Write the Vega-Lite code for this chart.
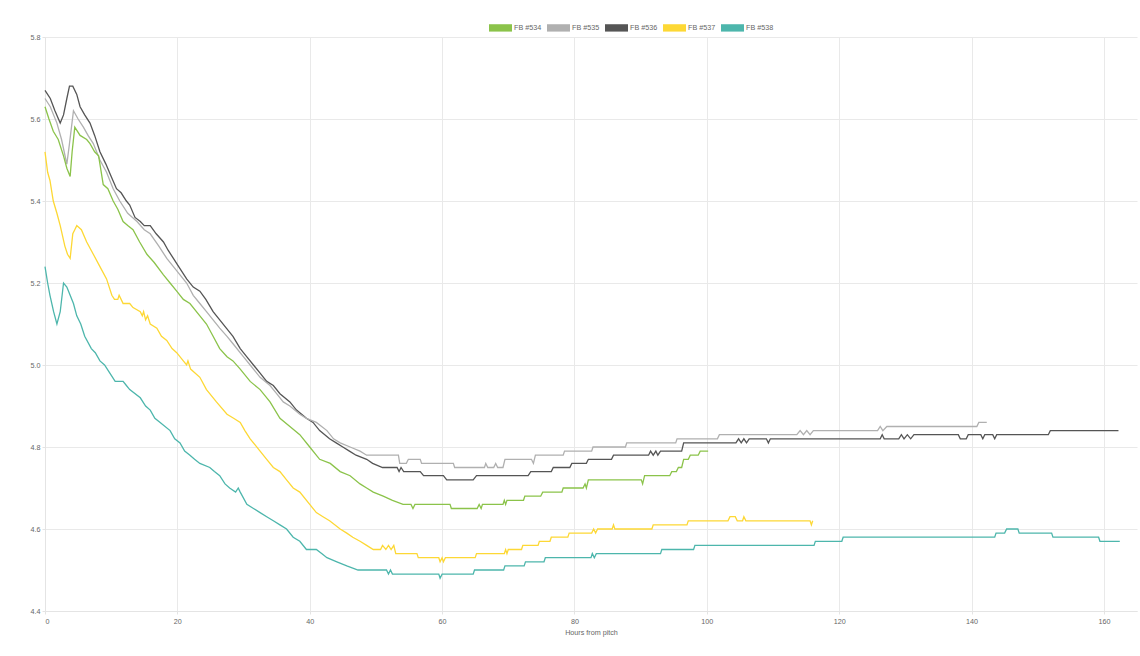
{
  "$schema": "https://vega.github.io/schema/vega-lite/v6.json",
  "width": 1092,
  "height": 574,
  "autosize": {"type": "none"},
  "padding": {"left": 45, "top": 37, "right": 3, "bottom": 45},
  "background": "white",
  "data": {"values": [
{"s":"FB #538","h":0,"v":5.24},{"s":"FB #538","h":0.4,"v":5.2},{"s":"FB #538","h":0.75,"v":5.17},{"s":"FB #538","h":1.3,"v":5.13},{"s":"FB #538","h":1.8,"v":5.1},{"s":"FB #538","h":2.3,"v":5.13},{"s":"FB #538","h":2.8,"v":5.2},{"s":"FB #538","h":3.3,"v":5.19},{"s":"FB #538","h":3.8,"v":5.17},{"s":"FB #538","h":4.3,"v":5.15},{"s":"FB #538","h":4.8,"v":5.12},{"s":"FB #538","h":5.4,"v":5.1},{"s":"FB #538","h":6,"v":5.07},{"s":"FB #538","h":7,"v":5.04},{"s":"FB #538","h":7.6,"v":5.03},{"s":"FB #538","h":8.3,"v":5.01},{"s":"FB #538","h":9,"v":5},{"s":"FB #538","h":9.8,"v":4.98},{"s":"FB #538","h":10.6,"v":4.96},{"s":"FB #538","h":11.8,"v":4.96},{"s":"FB #538","h":12.3,"v":4.95},{"s":"FB #538","h":12.8,"v":4.94},{"s":"FB #538","h":14.4,"v":4.92},{"s":"FB #538","h":15.2,"v":4.9},{"s":"FB #538","h":15.9,"v":4.89},{"s":"FB #538","h":16.6,"v":4.87},{"s":"FB #538","h":17.4,"v":4.86},{"s":"FB #538","h":18.9,"v":4.84},{"s":"FB #538","h":19.6,"v":4.82},{"s":"FB #538","h":20.4,"v":4.81},{"s":"FB #538","h":21.1,"v":4.79},{"s":"FB #538","h":21.9,"v":4.78},{"s":"FB #538","h":22.6,"v":4.77},{"s":"FB #538","h":23.4,"v":4.76},{"s":"FB #538","h":24.9,"v":4.75},{"s":"FB #538","h":25.6,"v":4.74},{"s":"FB #538","h":26.4,"v":4.73},{"s":"FB #538","h":27.2,"v":4.71},{"s":"FB #538","h":27.9,"v":4.7},{"s":"FB #538","h":28.8,"v":4.69},{"s":"FB #538","h":29.2,"v":4.7},{"s":"FB #538","h":29.5,"v":4.69},{"s":"FB #538","h":30.5,"v":4.66},{"s":"FB #538","h":31.5,"v":4.65},{"s":"FB #538","h":32.5,"v":4.64},{"s":"FB #538","h":33.5,"v":4.63},{"s":"FB #538","h":34.5,"v":4.62},{"s":"FB #538","h":35.5,"v":4.61},{"s":"FB #538","h":36.5,"v":4.6},{"s":"FB #538","h":37.5,"v":4.58},{"s":"FB #538","h":38.5,"v":4.57},{"s":"FB #538","h":39.5,"v":4.55},{"s":"FB #538","h":41,"v":4.55},{"s":"FB #538","h":41.8,"v":4.54},{"s":"FB #538","h":42.6,"v":4.53},{"s":"FB #538","h":44.1,"v":4.52},{"s":"FB #538","h":45.6,"v":4.51},{"s":"FB #538","h":47.3,"v":4.5},{"s":"FB #538","h":51.6,"v":4.5},{"s":"FB #538","h":51.9,"v":4.49},{"s":"FB #538","h":52.2,"v":4.5},{"s":"FB #538","h":52.5,"v":4.49},{"s":"FB #538","h":59.5,"v":4.49},{"s":"FB #538","h":59.7,"v":4.48},{"s":"FB #538","h":60,"v":4.49},{"s":"FB #538","h":64.7,"v":4.49},{"s":"FB #538","h":64.9,"v":4.5},{"s":"FB #538","h":69.3,"v":4.5},{"s":"FB #538","h":69.5,"v":4.51},{"s":"FB #538","h":72.4,"v":4.51},{"s":"FB #538","h":72.6,"v":4.52},{"s":"FB #538","h":75.4,"v":4.52},{"s":"FB #538","h":75.6,"v":4.53},{"s":"FB #538","h":82.5,"v":4.53},{"s":"FB #538","h":82.7,"v":4.54},{"s":"FB #538","h":83,"v":4.53},{"s":"FB #538","h":83.3,"v":4.54},{"s":"FB #538","h":93,"v":4.54},{"s":"FB #538","h":93.2,"v":4.55},{"s":"FB #538","h":98,"v":4.55},{"s":"FB #538","h":98.2,"v":4.56},{"s":"FB #538","h":116.2,"v":4.56},{"s":"FB #538","h":116.4,"v":4.57},{"s":"FB #538","h":120.4,"v":4.57},{"s":"FB #538","h":120.6,"v":4.58},{"s":"FB #538","h":143.5,"v":4.58},{"s":"FB #538","h":143.7,"v":4.59},{"s":"FB #538","h":145,"v":4.59},{"s":"FB #538","h":145.3,"v":4.6},{"s":"FB #538","h":147,"v":4.6},{"s":"FB #538","h":147.2,"v":4.59},{"s":"FB #538","h":152.1,"v":4.59},{"s":"FB #538","h":152.3,"v":4.58},{"s":"FB #538","h":159.2,"v":4.58},{"s":"FB #538","h":159.4,"v":4.57},{"s":"FB #538","h":162.4,"v":4.57},
{"s":"FB #537","h":0,"v":5.52},{"s":"FB #537","h":0.4,"v":5.47},{"s":"FB #537","h":0.75,"v":5.45},{"s":"FB #537","h":1.25,"v":5.4},{"s":"FB #537","h":1.8,"v":5.37},{"s":"FB #537","h":2.3,"v":5.34},{"s":"FB #537","h":3,"v":5.29},{"s":"FB #537","h":3.4,"v":5.27},{"s":"FB #537","h":3.8,"v":5.26},{"s":"FB #537","h":4.2,"v":5.32},{"s":"FB #537","h":4.5,"v":5.33},{"s":"FB #537","h":4.8,"v":5.34},{"s":"FB #537","h":5.5,"v":5.33},{"s":"FB #537","h":6.3,"v":5.3},{"s":"FB #537","h":7.3,"v":5.27},{"s":"FB #537","h":8.3,"v":5.24},{"s":"FB #537","h":9.3,"v":5.21},{"s":"FB #537","h":10.1,"v":5.17},{"s":"FB #537","h":10.5,"v":5.16},{"s":"FB #537","h":11,"v":5.16},{"s":"FB #537","h":11.2,"v":5.17},{"s":"FB #537","h":11.5,"v":5.16},{"s":"FB #537","h":11.8,"v":5.15},{"s":"FB #537","h":12.8,"v":5.15},{"s":"FB #537","h":13.3,"v":5.14},{"s":"FB #537","h":14.4,"v":5.13},{"s":"FB #537","h":14.7,"v":5.12},{"s":"FB #537","h":14.9,"v":5.13},{"s":"FB #537","h":15.2,"v":5.11},{"s":"FB #537","h":15.5,"v":5.12},{"s":"FB #537","h":15.9,"v":5.1},{"s":"FB #537","h":16.9,"v":5.09},{"s":"FB #537","h":17.6,"v":5.07},{"s":"FB #537","h":18.4,"v":5.06},{"s":"FB #537","h":19.2,"v":5.04},{"s":"FB #537","h":19.9,"v":5.03},{"s":"FB #537","h":20.9,"v":5.01},{"s":"FB #537","h":21.4,"v":5},{"s":"FB #537","h":21.6,"v":5.01},{"s":"FB #537","h":22,"v":4.99},{"s":"FB #537","h":23.4,"v":4.97},{"s":"FB #537","h":24.4,"v":4.94},{"s":"FB #537","h":25.9,"v":4.91},{"s":"FB #537","h":27.5,"v":4.88},{"s":"FB #537","h":28.5,"v":4.87},{"s":"FB #537","h":29.5,"v":4.86},{"s":"FB #537","h":30.2,"v":4.84},{"s":"FB #537","h":31,"v":4.82},{"s":"FB #537","h":32.5,"v":4.79},{"s":"FB #537","h":33.5,"v":4.77},{"s":"FB #537","h":34.5,"v":4.75},{"s":"FB #537","h":35.5,"v":4.74},{"s":"FB #537","h":36.5,"v":4.72},{"s":"FB #537","h":37.5,"v":4.7},{"s":"FB #537","h":38.5,"v":4.69},{"s":"FB #537","h":40,"v":4.66},{"s":"FB #537","h":41,"v":4.64},{"s":"FB #537","h":42,"v":4.63},{"s":"FB #537","h":43,"v":4.62},{"s":"FB #537","h":44.6,"v":4.6},{"s":"FB #537","h":45.6,"v":4.59},{"s":"FB #537","h":46.5,"v":4.58},{"s":"FB #537","h":47.6,"v":4.57},{"s":"FB #537","h":48.6,"v":4.56},{"s":"FB #537","h":49.6,"v":4.55},{"s":"FB #537","h":50.7,"v":4.55},{"s":"FB #537","h":51,"v":4.56},{"s":"FB #537","h":51.5,"v":4.55},{"s":"FB #537","h":51.9,"v":4.56},{"s":"FB #537","h":52.3,"v":4.55},{"s":"FB #537","h":52.7,"v":4.56},{"s":"FB #537","h":53,"v":4.54},{"s":"FB #537","h":56.2,"v":4.54},{"s":"FB #537","h":56.4,"v":4.53},{"s":"FB #537","h":59.5,"v":4.53},{"s":"FB #537","h":59.7,"v":4.52},{"s":"FB #537","h":60,"v":4.53},{"s":"FB #537","h":60.2,"v":4.52},{"s":"FB #537","h":60.5,"v":4.53},{"s":"FB #537","h":65,"v":4.53},{"s":"FB #537","h":65.2,"v":4.54},{"s":"FB #537","h":69.4,"v":4.54},{"s":"FB #537","h":69.6,"v":4.55},{"s":"FB #537","h":69.8,"v":4.54},{"s":"FB #537","h":70,"v":4.55},{"s":"FB #537","h":72,"v":4.55},{"s":"FB #537","h":72.2,"v":4.56},{"s":"FB #537","h":74.5,"v":4.56},{"s":"FB #537","h":74.7,"v":4.57},{"s":"FB #537","h":76.3,"v":4.57},{"s":"FB #537","h":76.5,"v":4.58},{"s":"FB #537","h":79,"v":4.58},{"s":"FB #537","h":79.2,"v":4.59},{"s":"FB #537","h":82.6,"v":4.59},{"s":"FB #537","h":82.9,"v":4.6},{"s":"FB #537","h":83.2,"v":4.59},{"s":"FB #537","h":83.5,"v":4.6},{"s":"FB #537","h":85.7,"v":4.6},{"s":"FB #537","h":85.9,"v":4.61},{"s":"FB #537","h":86.1,"v":4.6},{"s":"FB #537","h":91.7,"v":4.6},{"s":"FB #537","h":91.9,"v":4.61},{"s":"FB #537","h":97,"v":4.61},{"s":"FB #537","h":97.2,"v":4.62},{"s":"FB #537","h":103.2,"v":4.62},{"s":"FB #537","h":103.5,"v":4.63},{"s":"FB #537","h":104.3,"v":4.63},{"s":"FB #537","h":104.6,"v":4.62},{"s":"FB #537","h":105.4,"v":4.62},{"s":"FB #537","h":105.6,"v":4.63},{"s":"FB #537","h":105.9,"v":4.62},{"s":"FB #537","h":115.6,"v":4.62},{"s":"FB #537","h":115.8,"v":4.61},{"s":"FB #537","h":116,"v":4.62},
{"s":"FB #536","h":0,"v":5.67},{"s":"FB #536","h":0.8,"v":5.65},{"s":"FB #536","h":1.5,"v":5.62},{"s":"FB #536","h":2.3,"v":5.59},{"s":"FB #536","h":2.8,"v":5.61},{"s":"FB #536","h":3.3,"v":5.65},{"s":"FB #536","h":3.7,"v":5.68},{"s":"FB #536","h":4.2,"v":5.68},{"s":"FB #536","h":4.8,"v":5.66},{"s":"FB #536","h":5.3,"v":5.63},{"s":"FB #536","h":6,"v":5.61},{"s":"FB #536","h":6.8,"v":5.59},{"s":"FB #536","h":7.5,"v":5.56},{"s":"FB #536","h":8.3,"v":5.52},{"s":"FB #536","h":9.2,"v":5.49},{"s":"FB #536","h":10,"v":5.46},{"s":"FB #536","h":10.8,"v":5.43},{"s":"FB #536","h":11.5,"v":5.42},{"s":"FB #536","h":12.3,"v":5.4},{"s":"FB #536","h":12.8,"v":5.39},{"s":"FB #536","h":13.6,"v":5.36},{"s":"FB #536","h":14.4,"v":5.35},{"s":"FB #536","h":15,"v":5.34},{"s":"FB #536","h":15.9,"v":5.34},{"s":"FB #536","h":16.8,"v":5.32},{"s":"FB #536","h":17.9,"v":5.3},{"s":"FB #536","h":18.6,"v":5.28},{"s":"FB #536","h":19.4,"v":5.26},{"s":"FB #536","h":20.2,"v":5.24},{"s":"FB #536","h":21.4,"v":5.21},{"s":"FB #536","h":22.4,"v":5.19},{"s":"FB #536","h":23.4,"v":5.18},{"s":"FB #536","h":24.3,"v":5.16},{"s":"FB #536","h":25.4,"v":5.13},{"s":"FB #536","h":26.4,"v":5.11},{"s":"FB #536","h":27.4,"v":5.09},{"s":"FB #536","h":28.4,"v":5.07},{"s":"FB #536","h":29.5,"v":5.04},{"s":"FB #536","h":30.5,"v":5.02},{"s":"FB #536","h":31.5,"v":5},{"s":"FB #536","h":32.5,"v":4.98},{"s":"FB #536","h":33.5,"v":4.96},{"s":"FB #536","h":34.5,"v":4.95},{"s":"FB #536","h":35.5,"v":4.93},{"s":"FB #536","h":37,"v":4.91},{"s":"FB #536","h":38,"v":4.89},{"s":"FB #536","h":39.5,"v":4.87},{"s":"FB #536","h":40.5,"v":4.86},{"s":"FB #536","h":41.5,"v":4.84},{"s":"FB #536","h":43,"v":4.82},{"s":"FB #536","h":44,"v":4.81},{"s":"FB #536","h":45,"v":4.8},{"s":"FB #536","h":46,"v":4.79},{"s":"FB #536","h":47,"v":4.78},{"s":"FB #536","h":48.6,"v":4.77},{"s":"FB #536","h":49.5,"v":4.76},{"s":"FB #536","h":51,"v":4.75},{"s":"FB #536","h":53.2,"v":4.75},{"s":"FB #536","h":53.5,"v":4.74},{"s":"FB #536","h":53.8,"v":4.75},{"s":"FB #536","h":54.2,"v":4.74},{"s":"FB #536","h":56.7,"v":4.74},{"s":"FB #536","h":57.2,"v":4.73},{"s":"FB #536","h":60.2,"v":4.73},{"s":"FB #536","h":60.7,"v":4.72},{"s":"FB #536","h":64.7,"v":4.72},{"s":"FB #536","h":65.2,"v":4.73},{"s":"FB #536","h":73,"v":4.73},{"s":"FB #536","h":73.4,"v":4.74},{"s":"FB #536","h":76.5,"v":4.74},{"s":"FB #536","h":76.8,"v":4.75},{"s":"FB #536","h":79.3,"v":4.75},{"s":"FB #536","h":79.6,"v":4.76},{"s":"FB #536","h":81.8,"v":4.76},{"s":"FB #536","h":82.1,"v":4.77},{"s":"FB #536","h":85.6,"v":4.77},{"s":"FB #536","h":85.9,"v":4.78},{"s":"FB #536","h":91.2,"v":4.78},{"s":"FB #536","h":91.5,"v":4.79},{"s":"FB #536","h":91.9,"v":4.78},{"s":"FB #536","h":92.3,"v":4.79},{"s":"FB #536","h":92.6,"v":4.78},{"s":"FB #536","h":93,"v":4.79},{"s":"FB #536","h":96.2,"v":4.79},{"s":"FB #536","h":96.5,"v":4.81},{"s":"FB #536","h":104.4,"v":4.81},{"s":"FB #536","h":104.8,"v":4.82},{"s":"FB #536","h":105.2,"v":4.81},{"s":"FB #536","h":105.6,"v":4.82},{"s":"FB #536","h":106,"v":4.81},{"s":"FB #536","h":106.4,"v":4.82},{"s":"FB #536","h":109,"v":4.82},{"s":"FB #536","h":109.3,"v":4.81},{"s":"FB #536","h":109.6,"v":4.82},{"s":"FB #536","h":126.2,"v":4.82},{"s":"FB #536","h":126.5,"v":4.83},{"s":"FB #536","h":126.8,"v":4.82},{"s":"FB #536","h":129,"v":4.82},{"s":"FB #536","h":129.4,"v":4.83},{"s":"FB #536","h":129.8,"v":4.82},{"s":"FB #536","h":130.3,"v":4.83},{"s":"FB #536","h":130.8,"v":4.82},{"s":"FB #536","h":131.3,"v":4.83},{"s":"FB #536","h":138,"v":4.83},{"s":"FB #536","h":138.3,"v":4.82},{"s":"FB #536","h":139.2,"v":4.82},{"s":"FB #536","h":139.5,"v":4.83},{"s":"FB #536","h":141.4,"v":4.83},{"s":"FB #536","h":141.7,"v":4.82},{"s":"FB #536","h":142,"v":4.83},{"s":"FB #536","h":143.2,"v":4.83},{"s":"FB #536","h":143.5,"v":4.82},{"s":"FB #536","h":143.8,"v":4.83},{"s":"FB #536","h":151.6,"v":4.83},{"s":"FB #536","h":151.9,"v":4.84},{"s":"FB #536","h":162.2,"v":4.84},
{"s":"FB #535","h":0,"v":5.65},{"s":"FB #535","h":0.8,"v":5.63},{"s":"FB #535","h":1.8,"v":5.59},{"s":"FB #535","h":2.5,"v":5.55},{"s":"FB #535","h":3.3,"v":5.49},{"s":"FB #535","h":3.7,"v":5.54},{"s":"FB #535","h":4.3,"v":5.62},{"s":"FB #535","h":5,"v":5.6},{"s":"FB #535","h":5.8,"v":5.58},{"s":"FB #535","h":6.5,"v":5.56},{"s":"FB #535","h":7.3,"v":5.54},{"s":"FB #535","h":8.3,"v":5.5},{"s":"FB #535","h":9.3,"v":5.47},{"s":"FB #535","h":10.3,"v":5.43},{"s":"FB #535","h":11.3,"v":5.4},{"s":"FB #535","h":12.5,"v":5.37},{"s":"FB #535","h":13.9,"v":5.35},{"s":"FB #535","h":15,"v":5.33},{"s":"FB #535","h":15.9,"v":5.32},{"s":"FB #535","h":17.2,"v":5.29},{"s":"FB #535","h":18.4,"v":5.26},{"s":"FB #535","h":19.4,"v":5.24},{"s":"FB #535","h":20.4,"v":5.22},{"s":"FB #535","h":21.4,"v":5.2},{"s":"FB #535","h":22.4,"v":5.17},{"s":"FB #535","h":23.4,"v":5.15},{"s":"FB #535","h":24.4,"v":5.13},{"s":"FB #535","h":25.4,"v":5.11},{"s":"FB #535","h":26.4,"v":5.09},{"s":"FB #535","h":27.5,"v":5.07},{"s":"FB #535","h":28.5,"v":5.05},{"s":"FB #535","h":30,"v":5.02},{"s":"FB #535","h":31,"v":5},{"s":"FB #535","h":32.5,"v":4.97},{"s":"FB #535","h":34,"v":4.95},{"s":"FB #535","h":35,"v":4.93},{"s":"FB #535","h":36,"v":4.91},{"s":"FB #535","h":37,"v":4.9},{"s":"FB #535","h":38.5,"v":4.88},{"s":"FB #535","h":39.5,"v":4.87},{"s":"FB #535","h":41,"v":4.86},{"s":"FB #535","h":42.6,"v":4.84},{"s":"FB #535","h":43.6,"v":4.82},{"s":"FB #535","h":44.6,"v":4.81},{"s":"FB #535","h":46.1,"v":4.8},{"s":"FB #535","h":47.6,"v":4.79},{"s":"FB #535","h":48.6,"v":4.78},{"s":"FB #535","h":53.4,"v":4.78},{"s":"FB #535","h":53.6,"v":4.76},{"s":"FB #535","h":54.6,"v":4.76},{"s":"FB #535","h":54.9,"v":4.77},{"s":"FB #535","h":56.7,"v":4.77},{"s":"FB #535","h":56.9,"v":4.76},{"s":"FB #535","h":61.7,"v":4.76},{"s":"FB #535","h":61.9,"v":4.75},{"s":"FB #535","h":66.4,"v":4.75},{"s":"FB #535","h":66.6,"v":4.76},{"s":"FB #535","h":66.9,"v":4.75},{"s":"FB #535","h":67.8,"v":4.75},{"s":"FB #535","h":68.1,"v":4.76},{"s":"FB #535","h":68.4,"v":4.75},{"s":"FB #535","h":69.2,"v":4.75},{"s":"FB #535","h":69.5,"v":4.77},{"s":"FB #535","h":73.5,"v":4.77},{"s":"FB #535","h":73.8,"v":4.76},{"s":"FB #535","h":74.1,"v":4.78},{"s":"FB #535","h":78.3,"v":4.78},{"s":"FB #535","h":78.5,"v":4.79},{"s":"FB #535","h":82.6,"v":4.79},{"s":"FB #535","h":82.8,"v":4.8},{"s":"FB #535","h":87.7,"v":4.8},{"s":"FB #535","h":87.9,"v":4.81},{"s":"FB #535","h":95.3,"v":4.81},{"s":"FB #535","h":95.5,"v":4.82},{"s":"FB #535","h":101.6,"v":4.82},{"s":"FB #535","h":101.9,"v":4.83},{"s":"FB #535","h":113.6,"v":4.83},{"s":"FB #535","h":114.1,"v":4.84},{"s":"FB #535","h":114.6,"v":4.83},{"s":"FB #535","h":115.1,"v":4.84},{"s":"FB #535","h":115.6,"v":4.83},{"s":"FB #535","h":116.1,"v":4.84},{"s":"FB #535","h":125.8,"v":4.84},{"s":"FB #535","h":126.2,"v":4.85},{"s":"FB #535","h":126.6,"v":4.84},{"s":"FB #535","h":127.2,"v":4.85},{"s":"FB #535","h":140.8,"v":4.85},{"s":"FB #535","h":141.1,"v":4.86},{"s":"FB #535","h":142.3,"v":4.86},
{"s":"FB #534","h":0,"v":5.63},{"s":"FB #534","h":0.6,"v":5.6},{"s":"FB #534","h":1.25,"v":5.57},{"s":"FB #534","h":2,"v":5.55},{"s":"FB #534","h":2.8,"v":5.51},{"s":"FB #534","h":3.3,"v":5.48},{"s":"FB #534","h":3.8,"v":5.46},{"s":"FB #534","h":4.1,"v":5.52},{"s":"FB #534","h":4.5,"v":5.58},{"s":"FB #534","h":5.3,"v":5.56},{"s":"FB #534","h":6.3,"v":5.55},{"s":"FB #534","h":6.8,"v":5.54},{"s":"FB #534","h":7.5,"v":5.52},{"s":"FB #534","h":8.1,"v":5.51},{"s":"FB #534","h":8.8,"v":5.44},{"s":"FB #534","h":9.5,"v":5.43},{"s":"FB #534","h":10.3,"v":5.4},{"s":"FB #534","h":11,"v":5.38},{"s":"FB #534","h":11.8,"v":5.35},{"s":"FB #534","h":12.5,"v":5.34},{"s":"FB #534","h":13.3,"v":5.33},{"s":"FB #534","h":14.3,"v":5.3},{"s":"FB #534","h":15.4,"v":5.27},{"s":"FB #534","h":16.5,"v":5.25},{"s":"FB #534","h":17.9,"v":5.22},{"s":"FB #534","h":18.9,"v":5.2},{"s":"FB #534","h":19.9,"v":5.18},{"s":"FB #534","h":20.9,"v":5.16},{"s":"FB #534","h":21.9,"v":5.15},{"s":"FB #534","h":23.4,"v":5.12},{"s":"FB #534","h":24.4,"v":5.1},{"s":"FB #534","h":25.4,"v":5.07},{"s":"FB #534","h":26.4,"v":5.04},{"s":"FB #534","h":27.5,"v":5.02},{"s":"FB #534","h":28.4,"v":5.01},{"s":"FB #534","h":29.5,"v":4.99},{"s":"FB #534","h":31,"v":4.96},{"s":"FB #534","h":32.5,"v":4.94},{"s":"FB #534","h":34,"v":4.91},{"s":"FB #534","h":35.5,"v":4.87},{"s":"FB #534","h":37,"v":4.85},{"s":"FB #534","h":38.5,"v":4.83},{"s":"FB #534","h":40,"v":4.8},{"s":"FB #534","h":41.5,"v":4.77},{"s":"FB #534","h":43.1,"v":4.76},{"s":"FB #534","h":44.6,"v":4.74},{"s":"FB #534","h":46.1,"v":4.73},{"s":"FB #534","h":47.6,"v":4.71},{"s":"FB #534","h":48.6,"v":4.7},{"s":"FB #534","h":49.6,"v":4.69},{"s":"FB #534","h":51.1,"v":4.68},{"s":"FB #534","h":52.5,"v":4.67},{"s":"FB #534","h":54.1,"v":4.66},{"s":"FB #534","h":55.3,"v":4.66},{"s":"FB #534","h":55.6,"v":4.65},{"s":"FB #534","h":55.9,"v":4.66},{"s":"FB #534","h":61.2,"v":4.66},{"s":"FB #534","h":61.4,"v":4.65},{"s":"FB #534","h":65.3,"v":4.65},{"s":"FB #534","h":65.6,"v":4.66},{"s":"FB #534","h":65.9,"v":4.65},{"s":"FB #534","h":66.1,"v":4.66},{"s":"FB #534","h":69.2,"v":4.66},{"s":"FB #534","h":69.4,"v":4.67},{"s":"FB #534","h":69.6,"v":4.66},{"s":"FB #534","h":69.8,"v":4.67},{"s":"FB #534","h":72.3,"v":4.67},{"s":"FB #534","h":72.5,"v":4.68},{"s":"FB #534","h":74.9,"v":4.68},{"s":"FB #534","h":75.2,"v":4.69},{"s":"FB #534","h":78.1,"v":4.69},{"s":"FB #534","h":78.3,"v":4.7},{"s":"FB #534","h":81.3,"v":4.7},{"s":"FB #534","h":81.6,"v":4.71},{"s":"FB #534","h":81.8,"v":4.7},{"s":"FB #534","h":82.1,"v":4.72},{"s":"FB #534","h":90.1,"v":4.72},{"s":"FB #534","h":90.3,"v":4.71},{"s":"FB #534","h":90.6,"v":4.73},{"s":"FB #534","h":94.4,"v":4.73},{"s":"FB #534","h":94.7,"v":4.74},{"s":"FB #534","h":95.4,"v":4.74},{"s":"FB #534","h":95.7,"v":4.75},{"s":"FB #534","h":96.2,"v":4.75},{"s":"FB #534","h":96.5,"v":4.77},{"s":"FB #534","h":97.2,"v":4.77},{"s":"FB #534","h":97.5,"v":4.78},{"s":"FB #534","h":98.7,"v":4.78},{"s":"FB #534","h":99,"v":4.79},{"s":"FB #534","h":100.2,"v":4.79}
  ]},
  "mark": {"type": "line", "strokeWidth": 1.3},
  "encoding": {
    "x": {"field": "h", "type": "quantitative", "scale": {"domain": [0, 165], "nice": false}, "axis": {"values": [0, 20, 40, 60, 80, 100, 120, 140, 160], "title": "Hours from pitch"}},
    "y": {"field": "v", "type": "quantitative", "scale": {"domain": [4.4, 5.8], "nice": false, "zero": false}, "axis": {"values": [4.4, 4.6, 4.8, 5.0, 5.2, 5.4, 5.6, 5.8], "format": ".1f", "title": null}},
    "color": {"field": "s", "type": "nominal", "sort": ["FB #534", "FB #535", "FB #536", "FB #537", "FB #538"], "scale": {"domain": ["FB #534", "FB #535", "FB #536", "FB #537", "FB #538"], "range": ["#8bc34a", "#b0b0b0", "#555555", "#fdd835", "#4db6ac"]}, "legend": {"orient": "none", "legendX": 444, "legendY": -21, "direction": "horizontal", "title": null, "padding": 0, "symbolType": "M-1,-0.32H1V0.32H-1Z", "symbolSize": 529, "symbolStrokeWidth": 0, "labelOffset": 2, "columnPadding": 5, "labelFontSize": 7.2, "labelColor": "#666", "encode": {"symbols": {"update": {"fill": {"scale": "color", "field": "value"}, "opacity": {"value": 1}}}}}},
    "order": {"field": "s", "sort": "descending"}
  },
  "config": {
    "view": {"stroke": null},
    "font": "Liberation Sans",
    "axis": {"labelFontSize": 7.2, "labelColor": "#666", "gridColor": "#e9e9e9", "domainColor": "#e4e4e4", "tickColor": "#e4e4e4", "tickSize": 3, "labelPadding": 2, "titleFontSize": 7.2, "titleFontWeight": "normal", "titleColor": "#666", "titlePadding": 4},
    "axisX": {"labelPadding": 3}
  }
}
